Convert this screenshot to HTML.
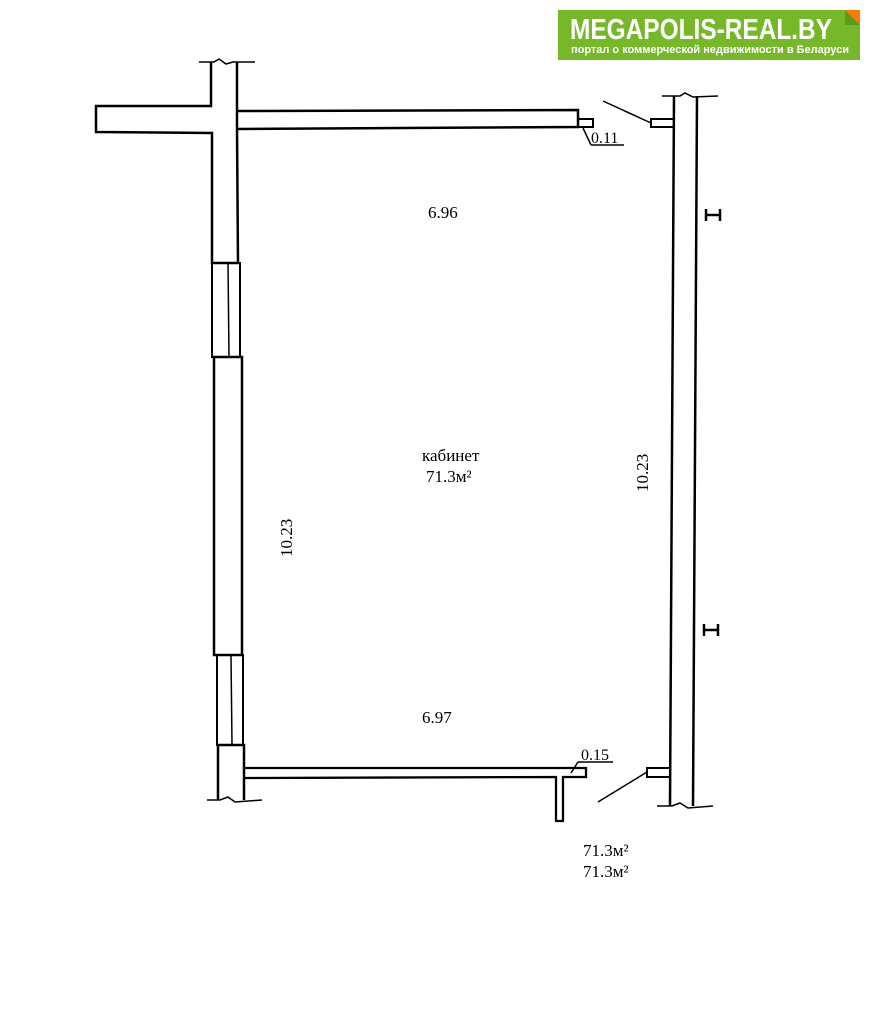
<!DOCTYPE html>
<html><head><meta charset="utf-8"><style>
html,body{margin:0;padding:0;background:#fff;}
svg{display:block}
</style></head><body>
<svg width="870" height="1013" viewBox="0 0 870 1013" xmlns="http://www.w3.org/2000/svg">
<rect width="870" height="1013" fill="#fff"/>
<!-- logo -->
<rect x="558" y="10" width="302" height="50" fill="#76b82a"/>
<polygon points="845,10 860,10 860,25" fill="#ff7a00"/>
<polygon points="845,10 860,25 845,25" fill="#5a9a1a"/>
<text x="570" y="39" font-family="Liberation Sans, sans-serif" font-weight="bold" font-size="29" fill="#fff" textLength="262" lengthAdjust="spacingAndGlyphs">MEGAPOLIS-REAL.BY</text>
<text x="571" y="53" font-family="Liberation Sans, sans-serif" font-weight="bold" font-size="11" fill="#fff" textLength="278" lengthAdjust="spacingAndGlyphs">портал о коммерческой недвижимости в Беларуси</text>

<g fill="none" stroke="#000" stroke-width="2.5">
<path d="M211,62 L211,106 L96,106 L96,132 L212,133 L212,263 L238,263 L237,130 L237,62" fill="#fff"/>
<path d="M238,111 L578,110 L578,127 L238,129"/>
<rect x="578" y="119" width="15" height="8" stroke-width="2"/>
<rect x="212" y="263" width="28" height="94" stroke-width="2"/>
<line x1="228" y1="263" x2="229" y2="357" stroke-width="1.5"/>
<rect x="214" y="357" width="28" height="298"/>
<rect x="217" y="655" width="26" height="90" stroke-width="2"/>
<line x1="231" y1="655" x2="232" y2="745" stroke-width="1.5"/>
<path d="M218,800 L218,745 L244,745 L244,800"/>
<path d="M244,768 L586,768 L586,777 L563,777 L563,821 L556,821 L556,777 L244,778" stroke-width="2.3"/>
<line x1="674" y1="96" x2="670" y2="806"/>
<line x1="697" y1="96" x2="693" y2="806"/>
<rect x="651" y="119" width="23" height="8" stroke-width="2"/>
<rect x="647" y="768" width="23" height="9" stroke-width="2"/>
</g>
<g stroke="#000" fill="none" stroke-width="1.5">
<path d="M199,62 L214,62 L219,59 L226,64 L233,62 L255,62"/>
<path d="M207,800 L220,800 L228,797 L235,802 L262,800"/>
<path d="M662,96 L680,96 L685,93 L693,97 L718,96"/>
<path d="M657,806 L672,806 L680,803 L688,808 L713,806"/>
<line x1="603" y1="101" x2="651" y2="123"/>
<line x1="598" y1="802" x2="647" y2="772"/>
<line x1="583" y1="128" x2="591" y2="145"/>
<line x1="591" y1="145" x2="624" y2="145"/>
<line x1="571" y1="773" x2="578" y2="762"/>
<line x1="578" y1="762" x2="613" y2="762"/>
<line x1="706" y1="209" x2="706" y2="221" stroke-width="2.5"/>
<line x1="720" y1="209" x2="720" y2="221" stroke-width="2.5"/>
<line x1="706" y1="215" x2="720" y2="215" stroke-width="2.5"/>
<line x1="704" y1="624" x2="704" y2="636" stroke-width="2.5"/>
<line x1="718" y1="624" x2="718" y2="636" stroke-width="2.5"/>
<line x1="704" y1="630" x2="718" y2="630" stroke-width="2.5"/>
</g>
<g font-family="Liberation Serif, serif" font-size="17" fill="#000">
<text x="428" y="218">6.96</text>
<text x="422" y="723">6.97</text>
<text x="422" y="461">кабинет</text>
<text x="426" y="482">71.3м²</text>
<text x="591" y="143" font-size="16">0.11</text>
<text x="581" y="760" font-size="16">0.15</text>
<text x="583" y="856">71.3м²</text>
<text x="583" y="877">71.3м²</text>
<text transform="translate(292,557) rotate(-90)">10.23</text>
<text transform="translate(648,492) rotate(-90)">10.23</text>
</g>
</svg>
</body></html>
